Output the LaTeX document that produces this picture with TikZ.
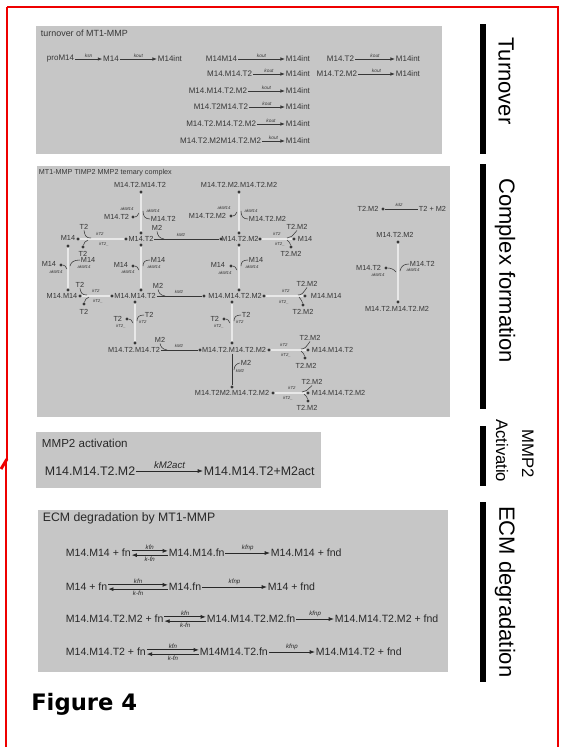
\documentclass[tikz,border=0pt]{standalone}
\usepackage{fontspec}
\setmainfont{Liberation Sans}
\newfontfamily\figfont{DejaVu Sans}
\usetikzlibrary{arrows.meta}
\definecolor{panel}{RGB}{198,198,198}
\definecolor{ink}{RGB}{55,55,55}
\definecolor{dink}{RGB}{40,40,40}
\definecolor{bred}{RGB}{238,0,0}
\begin{document}
\begin{tikzpicture}[x=0.75pt,y=-0.75pt,
  redline/.style={draw=bred, line width=2.2pt},
  blackbar/.style={fill=black, draw=none},
  sidelbl/.style={font=\fontsize{16.5}{18}\selectfont, rotate=-90, anchor=west, inner sep=0pt},
  smallside/.style={font=\fontsize{12.5}{14}\selectfont, rotate=-90, anchor=west, inner sep=0pt},
  tvtitle/.style={font=\fontsize{6.7}{8}\selectfont, text=ink, inner sep=0.5pt},
  tvtxt/.style={font=\fontsize{6}{7}\selectfont, text=ink, inner sep=0.5pt},
  tk/.style={font=\fontsize{3.6}{4}\selectfont\itshape, text=ink, inner sep=0pt},
  cxtitle/.style={font=\fontsize{5.4}{6}\selectfont, text=ink, inner sep=0.5pt},
  cxtxt/.style={font=\fontsize{5.5}{6}\selectfont, text=ink, inner sep=0.5pt},
  rk/.style={font=\fontsize{3.2}{3.5}\selectfont\itshape, text=ink, inner sep=0pt},
  jdot/.style={circle, fill=ink, inner sep=0pt, minimum size=2.3pt},
  revline/.style={draw=ink!80!black, line width=0.6pt, double=panel!40!white, double distance=1.0pt},
  oneline/.style={draw=ink, line width=0.5pt},
  hk/.style={draw=ink, line width=0.4pt},
  arr/.style={draw=ink, line width=0.5pt, -{Latex[length=3.4pt,width=2.6pt]}},
  earr/.style={draw=dink, line width=0.6pt, -{Latex[length=4pt,width=3pt]}},
  matitle/.style={font=\fontsize{8.7}{10}\selectfont, text=dink, inner sep=0.5pt},
  matxt/.style={font=\fontsize{9.3}{11}\selectfont, text=dink, inner sep=0.5pt},
  mk/.style={font=\fontsize{7.2}{8}\selectfont\itshape, text=dink, inner sep=0pt},
  ectitle/.style={font=\fontsize{9.2}{11}\selectfont, text=dink, inner sep=0.5pt},
  ecmtxt/.style={font=\fontsize{7.9}{9}\selectfont, text=dink, inner sep=0.5pt},
  ek/.style={font=\fontsize{4.6}{5}\selectfont\itshape, text=dink, inner sep=0pt}
]
\useasboundingbox (0,0) rectangle (569,747);
\fill[white] (0,0) rectangle (569,747);

% ---------------- red frame ----------------
\draw[redline] (7,7) -- (558,7) -- (558,747);
\draw[redline] (7,7) -- (7,460);
\draw[redline] (7,459) -- (1,469);
\draw[redline] (6,462) -- (6,747);

% ---------------- side bars and labels ----------------
\fill[blackbar] (480,24) rectangle (486,154);
\fill[blackbar] (480,164) rectangle (486,409);
\fill[blackbar] (480,426) rectangle (486,486);
\fill[blackbar] (480,502) rectangle (486,682);
\node[sidelbl] (lturn) at (506,37) {Turnover};
\node[sidelbl] (lcomp) at (505,178) {Complex formation};
\node[smallside] (lact) at (502,419) {Activatio};
\node[smallside] (lmmp) at (528,429) {MMP2};
\node[sidelbl] (lecm) at (505,506) {ECM degradation};

% ---------------- Figure 4 ----------------
\node[anchor=west, inner sep=0pt, font=\figfont\bfseries\fontsize{17}{20}\selectfont] (fig) at (31,704) {Figure 4};

% ================= Turnover panel =================
\fill[panel] (36,26) rectangle (442,154);
\node[tvtitle, anchor=west] (tvT) at (40,33) {turnover of MT1-MMP};
% row 1
\node[tvtxt, anchor=east] (p1) at (75,59) {proM14};
\node[tvtxt] (p2) at (111,59) {M14};
\node[tvtxt, anchor=west] (p3) at (157,59) {M14int};
\draw[arr] (p1.east) -- (p2.west) node[tk, midway, above=1.2pt] {ksn};
\draw[arr] (p2.east) -- (p3.west) node[tk, midway, above=1.2pt] {kout};
% middle column
\node[tvtxt, anchor=east] (q1) at (238,59) {M14M14};
\node[tvtxt, anchor=west] (q1i) at (285,59) {M14int};
\draw[arr] (q1.east) -- (q1i.west) node[tk, midway, above=1.2pt] {kout};
\node[tvtxt, anchor=east] (q2) at (253,74) {M14.M14.T2};
\node[tvtxt, anchor=west] (q2i) at (285,74) {M14int};
\draw[arr] (q2.east) -- (q2i.west) node[tk, midway, above=1.2pt] {kout};
\node[tvtxt, anchor=east] (q3) at (248,91) {M14.M14.T2.M2};
\node[tvtxt, anchor=west] (q3i) at (285,91) {M14int};
\draw[arr] (q3.east) -- (q3i.west) node[tk, midway, above=1.2pt] {kout};
\node[tvtxt, anchor=east] (q4) at (249,107) {M14.T2M14.T2};
\node[tvtxt, anchor=west] (q4i) at (285,107) {M14int};
\draw[arr] (q4.east) -- (q4i.west) node[tk, midway, above=1.2pt] {kout};
\node[tvtxt, anchor=east] (q5) at (257,124) {M14.T2.M14.T2.M2};
\node[tvtxt, anchor=west] (q5i) at (285,124) {M14int};
\draw[arr] (q5.east) -- (q5i.west) node[tk, midway, above=1.2pt] {kout};
\node[tvtxt, anchor=east] (q6) at (262,141) {M14.T2.M2M14.T2.M2};
\node[tvtxt, anchor=west] (q6i) at (285,141) {M14int};
\draw[arr] (q6.east) -- (q6i.west) node[tk, midway, above=1.2pt] {kout};
% right column
\node[tvtxt, anchor=east] (s1) at (355,59) {M14.T2};
\node[tvtxt, anchor=west] (s1i) at (395,59) {M14int};
\draw[arr] (s1.east) -- (s1i.west) node[tk, midway, above=1.2pt] {kout};
\node[tvtxt, anchor=east] (s2) at (358,74) {M14.T2.M2};
\node[tvtxt, anchor=west] (s2i) at (395,74) {M14int};
\draw[arr] (s2.east) -- (s2i.west) node[tk, midway, above=1.2pt] {kout};

% ================= Complex formation panel =================
\fill[panel] (37,166) rectangle (450,417);
\node[cxtitle, anchor=west] (cxT) at (38,173) {MT1-MMP TIMP2 MMP2 ternary complex};

\node[cxtxt] (tt) at (140,185) {M14.T2.M14.T2};
\node[cxtxt] (tmtmA) at (239,185) {M14.T2.M2.M14.T2.M2};
\node[cxtxt] (m14) at (68,238) {M14};
\node[cxtxt] (mt) at (141,239) {M14.T2};
\node[cxtxt] (mtm) at (240,239) {M14.T2.M2};
\node[cxtxt, anchor=west] (m14r) at (297,239) {M14};
\node[cxtxt] (mm) at (62,296) {M14.M14};
\node[cxtxt] (mmt) at (135,296) {M14.M14.T2};
\node[cxtxt] (mmtm) at (235,296) {M14.M14.T2.M2};
\node[cxtxt, anchor=west] (mmr) at (310,296) {M14.M14};
\node[cxtxt] (tmt) at (134,350) {M14.T2.M14.T2};
\node[cxtxt] (tmtm) at (234,350) {M14.T2.M14.T2.M2};
\node[cxtxt, anchor=west] (mmtr) at (311,350) {M14.M14.T2};
\node[cxtxt] (tmmt) at (232,393) {M14.T2M2.M14.T2.M2};
\node[cxtxt, anchor=west] (mmtmr) at (311,393) {M14.M14.T2.M2};

% R1: M14 <-> M14.T2
\node[jdot] (r1a) at (78,239) {};
\node[jdot] (r1b) at (126,239) {};
\draw[revline] (r1a) -- (r1b);
\node[cxtxt] (r1in) at (84,227) {T2};
\draw[hk] (r1in.south) .. controls (85,236) and (86,238) .. (91,238);
\node[rk] (r1k) at (100,234) {kT2};
\node[rk] (r1kr) at (104,244) {kT2\_};
\node[jdot] (r1o) at (83,247) {};
\draw[hk] (r1o) .. controls (84,243) and (85,241) .. (88,240);
\node[cxtxt] (r1ol) at (83,254) {T2};

% R2: M14.T2 -> M14.T2.M2
\node[jdot] (r2b) at (221,239) {};
\draw[oneline] (mt.east) -- (r2b);
\node[cxtxt] (r2in) at (157,228) {M2};
\draw[hk] (r2in.south) .. controls (158,236) and (159,238) .. (164,239);
\node[rk] (r2k) at (181,235) {kM2};

% R3: M14.T2.M2 <-> M14 + T2.M2
\node[jdot] (r3a) at (260,239) {};
\node[jdot] (r3b) at (294,239) {};
\draw[revline] (r3a) -- (r3b);
\node[cxtxt] (r3in) at (297,227) {T2.M2};
\draw[hk] (r3in.south) .. controls (292,236) and (291,238) .. (287,238);
\node[rk] (r3k) at (277,234) {kT2};
\node[rk] (r3kr) at (280,244) {kT2\_};
\node[jdot] (r3o) at (291,247) {};
\draw[hk] (r3o) .. controls (290,243) .. (287,240);
\node[cxtxt] (r3ol) at (291,254) {T2.M2};

% R4: M14 <-> M14.M14 (vertical)
\node[jdot] (r4a) at (68,246) {};
\node[jdot] (r4b) at (68,290) {};
\draw[revline] (r4a) -- (r4b);
\node[cxtxt, anchor=east] (r4l) at (57,264) {M14};
\node[jdot] (r4ld) at (61,265) {};
\draw[hk] (r4ld) .. controls (64,265) and (66,266) .. (67,269);
\node[rk] (r4lk) at (56,272) {akM14};
\node[cxtxt, anchor=west] (r4r) at (80,260) {M14};
\draw[hk] (r4r.west) .. controls (74,260) and (71,262) .. (70,266);
\node[rk] (r4rk) at (84,267) {akM14};

% R5: M14.M14 <-> M14.M14.T2
\node[jdot] (r5a) at (80,296) {};
\node[jdot] (r5b) at (112,296) {};
\draw[revline] (r5a) -- (r5b);
\node[cxtxt] (r5in) at (80,285) {T2};
\draw[hk] (r5in.south) .. controls (81,293) and (82,295) .. (87,295);
\node[rk] (r5k) at (96,291) {kT2};
\node[rk] (r5kr) at (98,301) {kT2\_};
\node[jdot] (r5o) at (84,304) {};
\draw[hk] (r5o) .. controls (85,300) and (86,298) .. (89,297);
\node[cxtxt] (r5ol) at (84,312) {T2};

% R6: M14.T2 <-> M14.M14.T2 (vertical)
\node[jdot] (r6a) at (141,245) {};
\node[jdot] (r6b) at (141,290) {};
\draw[revline] (r6a) -- (r6b);
\node[cxtxt, anchor=east] (r6l) at (129,265) {M14};
\node[jdot] (r6ld) at (133,266) {};
\draw[hk] (r6ld) .. controls (136,266) and (138,267) .. (139,270);
\node[rk] (r6lk) at (128,272) {akM14};
\node[cxtxt, anchor=west] (r6r) at (150,260) {M14};
\draw[hk] (r6r.west) .. controls (145,260) and (143,262) .. (143,266);
\node[rk] (r6rk) at (154,267) {akM14};

% R7: M14.T2.M14.T2 <-> M14.T2 (vertical)
\node[jdot] (r7a) at (141,192) {};
\node[jdot] (r7b) at (141,233) {};
\draw[revline] (r7a) -- (r7b);
\node[cxtxt, anchor=east] (r7l) at (130,217) {M14.T2};
\node[jdot] (r7ld) at (133,217) {};
\draw[hk] (r7ld) .. controls (136,217) and (138,216) .. (139,213);
\node[rk] (r7lk) at (127,209) {akM14};
\node[cxtxt, anchor=west] (r7r) at (150,219) {M14.T2};
\draw[hk] (r7r.west) .. controls (145,219) and (143,216) .. (143,211);
\node[rk] (r7rk) at (153,211) {akM14};

% R8: M14.M14.T2 -> M14.M14.T2.M2
\node[jdot] (r8b) at (204,296) {};
\draw[oneline] (mmt.east) -- (r8b);
\node[cxtxt] (r8in) at (158,286) {M2};
\draw[hk] (r8in.south) .. controls (159,293) and (160,295) .. (165,296);
\node[rk] (r8k) at (179,292) {kM2};

% R9: top vertical column 2
\node[jdot] (r9a) at (239,192) {};
\node[jdot] (r9b) at (239,233) {};
\draw[revline] (r9a) -- (r9b);
\node[cxtxt, anchor=east] (r9l) at (227,216) {M14.T2.M2};
\node[jdot] (r9ld) at (231,216) {};
\draw[hk] (r9ld) .. controls (234,216) and (236,215) .. (237,212);
\node[rk] (r9lk) at (224,208) {akM14};
\node[cxtxt, anchor=west] (r9r) at (248,219) {M14.T2.M2};
\draw[hk] (r9r.west) .. controls (243,219) and (241,216) .. (241,211);
\node[rk] (r9rk) at (251,211) {akM14};

% R10: lower vertical column 2
\node[jdot] (r10a) at (239,245) {};
\node[jdot] (r10b) at (239,290) {};
\draw[revline] (r10a) -- (r10b);
\node[cxtxt, anchor=east] (r10l) at (226,265) {M14};
\node[jdot] (r10ld) at (231,266) {};
\draw[hk] (r10ld) .. controls (234,266) and (236,267) .. (237,270);
\node[rk] (r10lk) at (225,273) {akM14};
\node[cxtxt, anchor=west] (r10r) at (248,260) {M14};
\draw[hk] (r10r.west) .. controls (243,260) and (241,262) .. (241,266);
\node[rk] (r10rk) at (252,267) {akM14};

% R11: M14.M14.T2.M2 <-> M14.M14 + T2.M2
\node[jdot] (r11a) at (264,296) {};
\node[jdot] (r11b) at (305,296) {};
\draw[revline] (r11a) -- (r11b);
\node[cxtxt] (r11in) at (307,284) {T2.M2};
\draw[hk] (r11in.south) .. controls (303,293) and (302,295) .. (298,295);
\node[rk] (r11k) at (286,291) {kT2};
\node[rk] (r11kr) at (284,302) {kT2\_};
\node[jdot] (r11o) at (303,305) {};
\draw[hk] (r11o) .. controls (302,301) .. (299,297);
\node[cxtxt] (r11ol) at (303,312) {T2.M2};

% R12: M14.M14.T2 <-> M14.T2.M14.T2 (vertical)
\node[jdot] (r12a) at (135,302) {};
\node[jdot] (r12b) at (135,343) {};
\draw[revline] (r12a) -- (r12b);
\node[cxtxt, anchor=east] (r12l) at (123,319) {T2};
\node[jdot] (r12ld) at (127,319) {};
\draw[hk] (r12ld) .. controls (130,319) and (132,320) .. (133,323);
\node[rk] (r12lk) at (121,326) {kT2\_};
\node[cxtxt, anchor=west] (r12r) at (144,315) {T2};
\draw[hk] (r12r.west) .. controls (139,315) and (137,317) .. (137,321);
\node[rk] (r12rk) at (143,322) {kT2};

% R13: M14.M14.T2.M2 <-> M14.T2.M14.T2.M2 (vertical)
\node[jdot] (r13a) at (232,302) {};
\node[jdot] (r13b) at (232,343) {};
\draw[revline] (r13a) -- (r13b);
\node[cxtxt, anchor=east] (r13l) at (220,319) {T2};
\node[jdot] (r13ld) at (224,319) {};
\draw[hk] (r13ld) .. controls (227,319) and (229,320) .. (230,323);
\node[rk] (r13lk) at (219,326) {kT2\_};
\node[cxtxt, anchor=west] (r13r) at (241,315) {T2};
\draw[hk] (r13r.west) .. controls (236,315) and (234,317) .. (234,321);
\node[rk] (r13rk) at (240,322) {kT2};

% R14: M14.T2.M14.T2 -> M14.T2.M14.T2.M2
\node[jdot] (r14b) at (200,350) {};
\draw[oneline] (tmt.east) -- (r14b);
\node[cxtxt] (r14in) at (160,340) {M2};
\draw[hk] (r14in.south) .. controls (161,347) and (162,349) .. (167,350);
\node[rk] (r14k) at (179,346) {kM2};

% R15: M14.T2.M14.T2.M2 <-> M14.M14.T2 + T2.M2
\node[jdot] (r15a) at (269,350) {};
\node[jdot] (r15b) at (308,350) {};
\draw[revline] (r15a) -- (r15b);
\node[cxtxt] (r15in) at (310,338) {T2.M2};
\draw[hk] (r15in.south) .. controls (306,347) and (305,349) .. (301,349);
\node[rk] (r15k) at (284,345) {kT2};
\node[rk] (r15kr) at (286,355) {kT2\_};
\node[jdot] (r15o) at (305,358) {};
\draw[hk] (r15o) .. controls (304,354) .. (301,351);
\node[cxtxt] (r15ol) at (306,366) {T2.M2};

% R16: M14.T2.M14.T2.M2 -> M14.T2M2.M14.T2.M2
\node[jdot] (r16b) at (232,387) {};
\draw[oneline] (tmtm.south -| r16b) -- (r16b);
\node[cxtxt] (r16in) at (246,363) {M2};
\draw[hk] (r16in.west) .. controls (238,363) and (234,365) .. (234,370);
\node[rk] (r16k) at (240,371) {kM2};

% R17: M14.T2M2.M14.T2.M2 <-> M14.M14.T2.M2 + T2.M2
\node[jdot] (r17a) at (273,393) {};
\node[jdot] (r17b) at (308,393) {};
\draw[revline] (r17a) -- (r17b);
\node[cxtxt] (r17in) at (312,382) {T2.M2};
\draw[hk] (r17in.south) .. controls (307,390) and (306,392) .. (302,392);
\node[rk] (r17k) at (292,388) {kT2};
\node[rk] (r17kr) at (288,398) {kT2\_};
\node[jdot] (r17o) at (308,401) {};
\draw[hk] (r17o) .. controls (307,397) .. (304,394);
\node[cxtxt] (r17ol) at (307,408) {T2.M2};

% right cluster
\node[cxtxt] (tmfree) at (368,209) {T2.M2};
\node[jdot] (r18a) at (383,209) {};
\node[cxtxt, anchor=west] (tpm) at (418,209) {T2 + M2};
\draw[oneline] (r18a) -- (tpm.west);
\node[rk] (r18k) at (399,205) {kd2};

\node[cxtxt] (rc1) at (395,235) {M14.T2.M2};
\node[jdot] (r19a) at (398,242) {};
\node[jdot] (r19b) at (398,302) {};
\draw[revline] (r19a) -- (r19b);
\node[cxtxt, anchor=east] (r19l) at (382,268) {M14.T2};
\node[jdot] (r19ld) at (386,268) {};
\draw[hk] (r19ld) .. controls (390,268) and (394,269) .. (396,272);
\node[rk] (r19lk) at (378,275) {akM14};
\node[cxtxt, anchor=west] (r19r) at (409,264) {M14.T2};
\draw[hk] (r19r.west) .. controls (404,264) and (401,266) .. (400,271);
\node[rk] (r19rk) at (413,270) {akM14};
\node[cxtxt] (rc2) at (397,309) {M14.T2.M14.T2.M2};

% ================= MMP2 activation panel =================
\fill[panel] (36,432) rectangle (321,488);
\node[matitle, anchor=west] (maT) at (41,443) {MMP2 activation};
\node[matxt, anchor=west] (ma1) at (44,471) {M14.M14.T2.M2};
\node[matxt, anchor=west] (ma2) at (203,471) {M14.M14.T2+M2act};
\draw[earr] (ma1.east) -- (ma2.west) node[mk, midway, above=1.5pt] {kM2act};

% ================= ECM degradation panel =================
\fill[panel] (38,510) rectangle (448,672);
\node[ectitle, anchor=west] (ecT) at (42,518) {ECM degradation by MT1-MMP};
% row 1
\node[ecmtxt, anchor=west] (e1a) at (65,553) {M14.M14 + fn};
\node[ecmtxt, anchor=west] (e1b) at (168,553) {M14.M14.fn};
\node[ecmtxt, anchor=west] (e1c) at (270,553) {M14.M14 + fnd};
\draw[earr] ([yshift=1.6pt]e1a.east) -- ([yshift=1.6pt]e1b.west) node[ek, midway, above=1pt] {kfn};
\draw[earr] ([yshift=-1.6pt]e1b.west) -- ([yshift=-1.6pt]e1a.east) node[ek, midway, below=1pt] {k-fn};
\draw[earr] (e1b.east) -- (e1c.west) node[ek, midway, above=1.2pt] {kfnp};
% row 2
\node[ecmtxt, anchor=west] (e2a) at (65,587) {M14 + fn};
\node[ecmtxt, anchor=west] (e2b) at (168,587) {M14.fn};
\node[ecmtxt, anchor=west] (e2c) at (267,587) {M14 + fnd};
\draw[earr] ([yshift=1.6pt]e2a.east) -- ([yshift=1.6pt]e2b.west) node[ek, midway, above=1pt] {kfn};
\draw[earr] ([yshift=-1.6pt]e2b.west) -- ([yshift=-1.6pt]e2a.east) node[ek, midway, below=1pt] {k-fn};
\draw[earr] (e2b.east) -- (e2c.west) node[ek, midway, above=1.2pt] {kfnp};
% row 3
\node[ecmtxt, anchor=west] (e3a) at (65,619) {M14.M14.T2.M2 + fn};
\node[ecmtxt, anchor=west] (e3b) at (206,619) {M14.M14.T2.M2.fn};
\node[ecmtxt, anchor=west] (e3c) at (334,619) {M14.M14.T2.M2 + fnd};
\draw[earr] ([yshift=1.6pt]e3a.east) -- ([yshift=1.6pt]e3b.west) node[ek, midway, above=1pt] {kfn};
\draw[earr] ([yshift=-1.6pt]e3b.west) -- ([yshift=-1.6pt]e3a.east) node[ek, midway, below=1pt] {k-fn};
\draw[earr] (e3b.east) -- (e3c.west) node[ek, midway, above=1.2pt] {kfnp};
% row 4
\node[ecmtxt, anchor=west] (e4a) at (65,652) {M14.M14.T2 + fn};
\node[ecmtxt, anchor=west] (e4b) at (199,652) {M14M14.T2.fn};
\node[ecmtxt, anchor=west] (e4c) at (315,652) {M14.M14.T2 + fnd};
\draw[earr] ([yshift=1.6pt]e4a.east) -- ([yshift=1.6pt]e4b.west) node[ek, midway, above=1pt] {kfn};
\draw[earr] ([yshift=-1.6pt]e4b.west) -- ([yshift=-1.6pt]e4a.east) node[ek, midway, below=1pt] {k-fn};
\draw[earr] (e4b.east) -- (e4c.west) node[ek, midway, above=1.2pt] {kfnp};
\end{tikzpicture}
\end{document}
